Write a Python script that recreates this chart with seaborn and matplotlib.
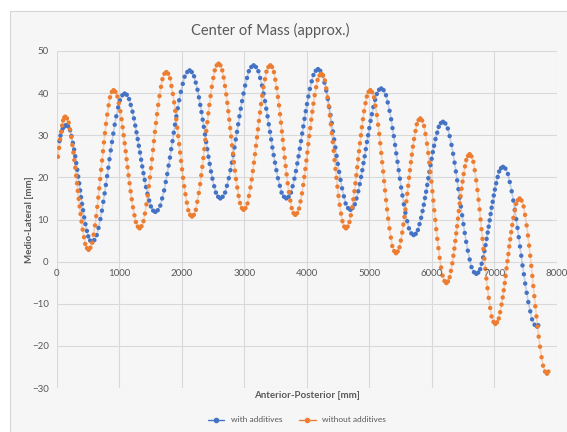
import matplotlib
matplotlib.use("Agg")
import matplotlib.pyplot as plt
import seaborn as sns
import pandas as pd
from matplotlib.patches import Rectangle
from matplotlib.lines import Line2D

# Centre-of-mass track, with additives (x: anterior-posterior mm, y: medio-lateral mm)
with_x = [
    40, 56, 73, 91, 110, 129, 149,
    178, 209, 231, 254, 274, 292, 308, 324, 339, 355, 370, 385, 401, 417, 435, 455, 478, 500, 531, 560,
    597, 636, 664, 694, 719, 741, 762, 782, 802, 821, 840, 860, 880, 901, 923, 948, 978, 1006, 1046, 1082,
    1116, 1153, 1180, 1208, 1231, 1252, 1272, 1291, 1309, 1328, 1346, 1364, 1383, 1403, 1424, 1447, 1475, 1502, 1539, 1573,
    1611, 1653, 1682, 1714, 1740, 1764, 1786, 1807, 1827, 1848, 1868, 1888, 1910, 1932, 1955, 1982, 2013, 2042, 2084, 2122,
    2156, 2193, 2220, 2248, 2271, 2292, 2312, 2331, 2349, 2368, 2386, 2404, 2423, 2443, 2464, 2487, 2515, 2542, 2579, 2613,
    2650, 2690, 2719, 2749, 2775, 2798, 2819, 2840, 2860, 2880, 2899, 2919, 2940, 2961, 2984, 3010, 3040, 3069, 3109, 3146,
    3183, 3222, 3250, 3280, 3305, 3328, 3348, 3369, 3388, 3408, 3427, 3446, 3467, 3488, 3510, 3535, 3565, 3593, 3632, 3669,
    3705, 3743, 3770, 3799, 3823, 3845, 3865, 3885, 3904, 3923, 3941, 3960, 3980, 4000, 4022, 4046, 4075, 4103, 4141, 4176,
    4212, 4251, 4279, 4308, 4333, 4355, 4376, 4396, 4415, 4435, 4454, 4473, 4493, 4514, 4536, 4561, 4590, 4618, 4657, 4693,
    4728, 4765, 4792, 4820, 4844, 4865, 4885, 4904, 4923, 4941, 4959, 4978, 4997, 5017, 5038, 5062, 5090, 5117, 5154, 5189,
    5225, 5264, 5292, 5321, 5346, 5368, 5389, 5409, 5428, 5448, 5467, 5486, 5506, 5527, 5549, 5574, 5603, 5631, 5670, 5706,
    5739, 5774, 5800, 5826, 5849, 5869, 5888, 5906, 5924, 5941, 5958, 5976, 5994, 6013, 6033, 6056, 6083, 6108, 6143, 6176,
    6213, 6253, 6282, 6312, 6338, 6361, 6382, 6403, 6423, 6443, 6462, 6482, 6503, 6524, 6547, 6573, 6603, 6632, 6672, 6709,
    6739, 6771, 6794, 6818, 6839, 6857, 6874, 6891, 6907, 6923, 6938, 6954, 6971, 6988, 7006, 7027, 7051, 7074, 7106, 7136,
    7174, 7215, 7244, 7275, 7301, 7325, 7347, 7368, 7388, 7408, 7428, 7448, 7470, 7491, 7515, 7541, 7572, 7601, 7642, 7680,
    7700,
]
with_y = [
    28.6, 29.9, 30.9, 31.6, 32.0, 32.3, 32.4,
    32.1, 31.2, 29.8, 28.2, 26.6, 25.0, 23.4, 21.8, 20.2, 18.6, 16.9, 15.3, 13.7, 12.2, 10.5, 8.9, 7.3, 6.0, 5.0, 4.7,
    5.1, 6.3, 8.0, 10.1, 12.1, 14.2, 16.2, 18.2, 20.3, 22.3, 24.3, 26.4, 28.4, 30.4, 32.5, 34.5, 36.6, 38.3, 39.5, 39.9,
    39.6, 38.6, 37.2, 35.6, 34.0, 32.3, 30.7, 29.1, 27.5, 25.9, 24.2, 22.6, 21.0, 19.4, 17.7, 16.1, 14.5, 13.1, 12.1, 11.8,
    12.2, 13.3, 15.0, 16.9, 18.9, 20.8, 22.8, 24.7, 26.7, 28.6, 30.6, 32.5, 34.5, 36.4, 38.3, 40.3, 42.2, 43.9, 45.0, 45.4,
    45.0, 44.0, 42.5, 40.8, 39.0, 37.2, 35.5, 33.7, 32.0, 30.2, 28.4, 26.7, 24.9, 23.2, 21.4, 19.7, 17.9, 16.4, 15.4, 15.0,
    15.4, 16.4, 18.0, 19.8, 21.7, 23.5, 25.3, 27.1, 29.0, 30.8, 32.6, 34.5, 36.3, 38.1, 39.9, 41.8, 43.6, 45.2, 46.2, 46.6,
    46.2, 45.2, 43.6, 41.8, 39.9, 38.1, 36.3, 34.5, 32.6, 30.8, 29.0, 27.1, 25.3, 23.5, 21.7, 19.8, 18.0, 16.4, 15.4, 15.0,
    15.4, 16.4, 17.9, 19.7, 21.5, 23.3, 25.0, 26.8, 28.6, 30.4, 32.1, 33.9, 35.7, 37.4, 39.2, 41.0, 42.8, 44.3, 45.3, 45.7,
    45.3, 44.2, 42.5, 40.6, 38.6, 36.7, 34.8, 32.9, 30.9, 29.0, 27.1, 25.1, 23.2, 21.3, 19.4, 17.4, 15.5, 13.8, 12.7, 12.3,
    12.7, 13.6, 15.0, 16.7, 18.4, 20.1, 21.7, 23.4, 25.0, 26.7, 28.4, 30.0, 31.7, 33.4, 35.0, 36.7, 38.4, 39.8, 40.8, 41.1,
    40.7, 39.5, 37.8, 35.8, 33.8, 31.7, 29.8, 27.7, 25.7, 23.7, 21.7, 19.7, 17.6, 15.7, 13.6, 11.6, 9.6, 7.9, 6.7, 6.3,
    6.6, 7.5, 8.9, 10.4, 12.0, 13.5, 15.1, 16.6, 18.2, 19.8, 21.3, 22.9, 24.4, 26.0, 27.5, 29.1, 30.6, 32.0, 32.9, 33.2,
    32.8, 31.6, 29.8, 27.7, 25.6, 23.5, 21.4, 19.3, 17.2, 15.2, 13.1, 11.0, 8.9, 6.8, 4.7, 2.6, 0.5, -1.3, -2.5, -2.9,
    -2.6, -1.8, -0.5, 1.0, 2.5, 3.9, 5.4, 6.9, 8.3, 9.8, 11.3, 12.8, 14.2, 15.7, 17.1, 18.6, 20.1, 21.4, 22.2, 22.5,
    22.1, 20.8, 18.9, 16.7, 14.5, 12.3, 10.1, 8.0, 5.8, 3.6, 1.4, -0.9, -3.0, -5.2, -7.4, -9.6, -11.8, -13.7, -15.0, -15.4,
    -15.1,
]

# Centre-of-mass track, without additives
without_x = [
    16, 34, 50, 66, 82, 98, 116, 133,
    159, 187, 207, 229, 246, 262, 277, 292, 306, 320, 333, 347, 362, 377, 393, 411, 432, 452, 480, 506,
    534, 564, 586, 608, 628, 645, 661, 676, 691, 706, 721, 736, 751, 767, 784, 804, 826, 848, 878, 906,
    935, 966, 989, 1013, 1033, 1050, 1067, 1083, 1099, 1114, 1129, 1145, 1161, 1178, 1196, 1216, 1239, 1262, 1293, 1322,
    1352, 1384, 1407, 1431, 1452, 1470, 1487, 1504, 1520, 1536, 1551, 1567, 1584, 1601, 1619, 1640, 1664, 1687, 1719, 1749,
    1778, 1809, 1831, 1854, 1874, 1892, 1908, 1924, 1939, 1955, 1970, 1985, 2001, 2017, 2035, 2055, 2078, 2100, 2131, 2160,
    2190, 2222, 2245, 2269, 2290, 2308, 2325, 2342, 2357, 2373, 2389, 2405, 2421, 2438, 2457, 2477, 2501, 2524, 2556, 2586,
    2614, 2644, 2666, 2688, 2708, 2725, 2741, 2756, 2771, 2786, 2801, 2816, 2831, 2847, 2864, 2884, 2906, 2928, 2958, 2986,
    3016, 3048, 3071, 3095, 3116, 3134, 3151, 3168, 3184, 3200, 3215, 3231, 3248, 3265, 3283, 3304, 3328, 3351, 3383, 3413,
    3441, 3471, 3493, 3515, 3535, 3552, 3568, 3583, 3598, 3613, 3628, 3643, 3658, 3674, 3691, 3711, 3733, 3755, 3785, 3813,
    3842, 3873, 3896, 3920, 3940, 3957, 3974, 3990, 4006, 4021, 4036, 4052, 4068, 4085, 4103, 4123, 4146, 4169, 4200, 4229,
    4257, 4286, 4308, 4330, 4349, 4366, 4382, 4397, 4412, 4427, 4441, 4456, 4471, 4487, 4504, 4523, 4545, 4567, 4596, 4624,
    4651, 4680, 4701, 4724, 4742, 4759, 4775, 4790, 4804, 4819, 4833, 4847, 4863, 4878, 4895, 4913, 4936, 4957, 4986, 5013,
    5042, 5073, 5095, 5118, 5138, 5156, 5172, 5188, 5203, 5219, 5234, 5249, 5265, 5281, 5299, 5319, 5342, 5364, 5395, 5424,
    5451, 5480, 5501, 5524, 5542, 5559, 5575, 5590, 5604, 5619, 5633, 5647, 5663, 5678, 5695, 5713, 5736, 5757, 5786, 5813,
    5842, 5873, 5896, 5920, 5940, 5957, 5974, 5990, 6006, 6021, 6036, 6052, 6068, 6085, 6103, 6123, 6146, 6169, 6200, 6229,
    6255, 6283, 6303, 6325, 6342, 6358, 6373, 6388, 6402, 6416, 6429, 6443, 6458, 6473, 6489, 6507, 6528, 6548, 6576, 6602,
    6631, 6662, 6684, 6707, 6727, 6745, 6761, 6777, 6792, 6808, 6823, 6838, 6854, 6870, 6888, 6908, 6931, 6953, 6984, 7013,
    7040, 7069, 7090, 7113, 7131, 7148, 7164, 7179, 7193, 7208, 7222, 7236, 7252, 7267, 7284, 7302, 7325, 7346, 7375, 7402,
    7433, 7466, 7489, 7514, 7535, 7554, 7572, 7589, 7605, 7621, 7637, 7653, 7671, 7688, 7707, 7728, 7753, 7777, 7809, 7840,
    7862,
]
without_y = [
    24.9, 27.0, 29.0, 30.8, 32.3, 33.5, 34.2, 34.4,
    34.0, 33.0, 31.4, 29.6, 27.7, 25.9, 24.1, 22.3, 20.4, 18.6, 16.8, 14.9, 13.1, 11.3, 9.5, 7.6, 5.8, 4.2, 3.2, 2.8,
    3.3, 4.5, 6.4, 8.6, 10.8, 13.0, 15.2, 17.4, 19.6, 21.8, 24.0, 26.2, 28.3, 30.5, 32.7, 34.9, 37.1, 39.0, 40.3, 40.7,
    40.3, 39.2, 37.6, 35.7, 33.8, 31.9, 30.0, 28.1, 26.2, 24.3, 22.4, 20.5, 18.6, 16.7, 14.8, 12.9, 11.0, 9.4, 8.3, 7.9,
    8.4, 9.6, 11.4, 13.6, 15.7, 17.9, 20.0, 22.2, 24.3, 26.5, 28.6, 30.8, 32.9, 35.0, 37.2, 39.3, 41.5, 43.3, 44.6, 45.0,
    44.6, 43.5, 41.7, 39.8, 37.8, 35.8, 33.8, 31.8, 29.8, 27.9, 25.9, 23.9, 21.9, 19.9, 17.9, 16.0, 14.0, 12.2, 11.1, 10.7,
    11.1, 12.3, 14.2, 16.3, 18.4, 20.5, 22.5, 24.6, 26.7, 28.9, 31.0, 33.1, 35.2, 37.2, 39.3, 41.5, 43.6, 45.4, 46.6, 47.0,
    46.6, 45.4, 43.7, 41.7, 39.7, 37.7, 35.7, 33.7, 31.7, 29.7, 27.6, 25.6, 23.6, 21.6, 19.6, 17.6, 15.6, 13.9, 12.7, 12.3,
    12.7, 13.8, 15.6, 17.6, 19.5, 21.5, 23.5, 25.5, 27.5, 29.5, 31.4, 33.4, 35.4, 37.4, 39.4, 41.4, 43.3, 45.1, 46.2, 46.6,
    46.2, 45.0, 43.2, 41.2, 39.1, 37.1, 35.0, 33.0, 30.9, 28.9, 26.8, 24.7, 22.7, 20.7, 18.6, 16.5, 14.5, 12.7, 11.5, 11.1,
    11.5, 12.6, 14.3, 16.2, 18.2, 20.1, 22.0, 24.0, 25.9, 27.9, 29.8, 31.7, 33.7, 35.6, 37.5, 39.5, 41.4, 43.1, 44.2, 44.6,
    44.2, 43.0, 41.1, 39.0, 36.9, 34.7, 32.6, 30.5, 28.4, 26.3, 24.1, 22.0, 19.9, 17.8, 15.6, 13.5, 11.4, 9.6, 8.3, 7.9,
    8.3, 9.4, 11.0, 12.9, 14.8, 16.7, 18.6, 20.5, 22.4, 24.3, 26.2, 28.1, 30.0, 31.9, 33.8, 35.7, 37.6, 39.2, 40.3, 40.7,
    40.2, 39.0, 37.0, 34.8, 32.5, 30.3, 28.1, 25.8, 23.6, 21.4, 19.1, 16.9, 14.6, 12.4, 10.2, 7.9, 5.7, 3.7, 2.5, 2.0,
    2.4, 3.4, 5.0, 6.9, 8.8, 10.6, 12.4, 14.3, 16.1, 18.0, 19.9, 21.7, 23.6, 25.4, 27.3, 29.1, 31.0, 32.6, 33.6, 34.0,
    33.5, 32.2, 30.3, 28.0, 25.8, 23.5, 21.3, 19.0, 16.7, 14.5, 12.2, 9.9, 7.7, 5.4, 3.2, 0.9, -1.4, -3.3, -4.6, -5.1,
    -4.7, -3.7, -2.2, -0.4, 1.4, 3.1, 4.9, 6.7, 8.4, 10.2, 12.0, 13.8, 15.5, 17.3, 19.0, 20.8, 22.6, 24.1, 25.1, 25.5,
    25.0, 23.7, 21.7, 19.3, 17.0, 14.7, 12.4, 10.0, 7.7, 5.4, 3.0, 0.7, -1.7, -4.0, -6.3, -8.6, -11.0, -13.0, -14.3, -14.8,
    -14.4, -13.5, -12.0, -10.2, -8.5, -6.8, -5.1, -3.4, -1.6, 0.1, 1.8, 3.6, 5.3, 7.0, 8.7, 10.4, 12.2, 13.7, 14.6, 15.0,
    14.5, 13.1, 11.1, 8.6, 6.2, 3.8, 1.4, -1.0, -3.4, -5.8, -8.2, -10.6, -13.0, -15.4, -17.8, -20.2, -22.7, -24.7, -26.1, -26.6,
    -26.1,
]

series_names = ["with additives", "without additives"]
x_ticks = [0, 1000, 2000, 3000, 4000, 5000, 6000, 7000, 8000]
y_ticks = [-30, -20, -10, 0, 10, 20, 30, 40, 50]

BLUE = "#4472C4"
ORANGE = "#ED7D31"
TEXT = "#595959"
W, H = 567, 432

sns.set_theme(style="white")
plt.rcParams["font.family"] = ["Lato", "DejaVu Sans"]

fig = plt.figure(figsize=(W / 100, H / 100), dpi=100)
fig.patch.set_facecolor("white")
# chart area panel
fig.add_artist(Rectangle((10 / W, -0.01), 1.0, 1 - 11 / H + 0.01, transform=fig.transFigure,
                         facecolor="#f6f6f6", edgecolor="#d6d6d6", lw=0.8, zorder=0))

ax = fig.add_axes([57 / W, 1 - 388 / H, 500 / W, 337 / H])
ax.set_facecolor("none")

df_with = pd.DataFrame({"x": with_x, "y": with_y})
df_without = pd.DataFrame({"x": without_x, "y": without_y})

for df, col in [(df_with, BLUE), (df_without, ORANGE)]:
    sns.lineplot(data=df, x="x", y="y", sort=False, estimator=None, color=col,
                 alpha=0.28, lw=1.2, ax=ax, zorder=2)
    sns.scatterplot(data=df, x="x", y="y", color=col, s=10, edgecolor="none",
                    ax=ax, zorder=3)

ax.set_xlim(0, 8000)
ax.set_ylim(-30, 50)
ax.set_xticks(x_ticks)
ax.set_yticks(y_ticks)
ax.grid(True, color="#d9d9d9", lw=0.8)
ax.set_axisbelow(True)
for s in ax.spines.values():
    s.set_visible(False)
ax.tick_params(axis="both", length=0, labelsize=7, colors=TEXT)
ax.tick_params(axis="x", labelbottom=False)
ax.tick_params(axis="y", pad=6)

# x tick labels sit just under the zero line
for t in x_ticks:
    ax.annotate(str(t), (t, 0), xytext=(0, -5), textcoords="offset points",
                ha="center", va="top", fontsize=7, color=TEXT)

ax.set_xlabel("Anterior-Posterior [mm]", fontsize=7, fontweight="bold", color=TEXT)
ax.xaxis.set_label_coords(0.5, -(391 - 388) / 337)
ax.xaxis.label.set_va("top")
ax.set_ylabel("Medio-Lateral [mm]", fontsize=7, fontweight="bold", color=TEXT)
ax.yaxis.set_label_coords((29.5 - 57) / 500, 0.5)
ax.yaxis.label.set_va("center")

fig.text(270 / W, 1 - 30 / H, "Center of Mass (approx.)", ha="center", va="center",
         fontsize=10.5, color=TEXT)

handles = [Line2D([], [], color=BLUE, marker="o", ms=3, lw=1),
           Line2D([], [], color=ORANGE, marker="o", ms=3, lw=1)]
fig.legend(handles, series_names, loc="center",
           bbox_to_anchor=(297 / W, 1 - 420 / H), ncol=2, frameon=False,
           fontsize=6, labelcolor=TEXT, handlelength=2, columnspacing=2)

fig.savefig("out.png", dpi=100)
